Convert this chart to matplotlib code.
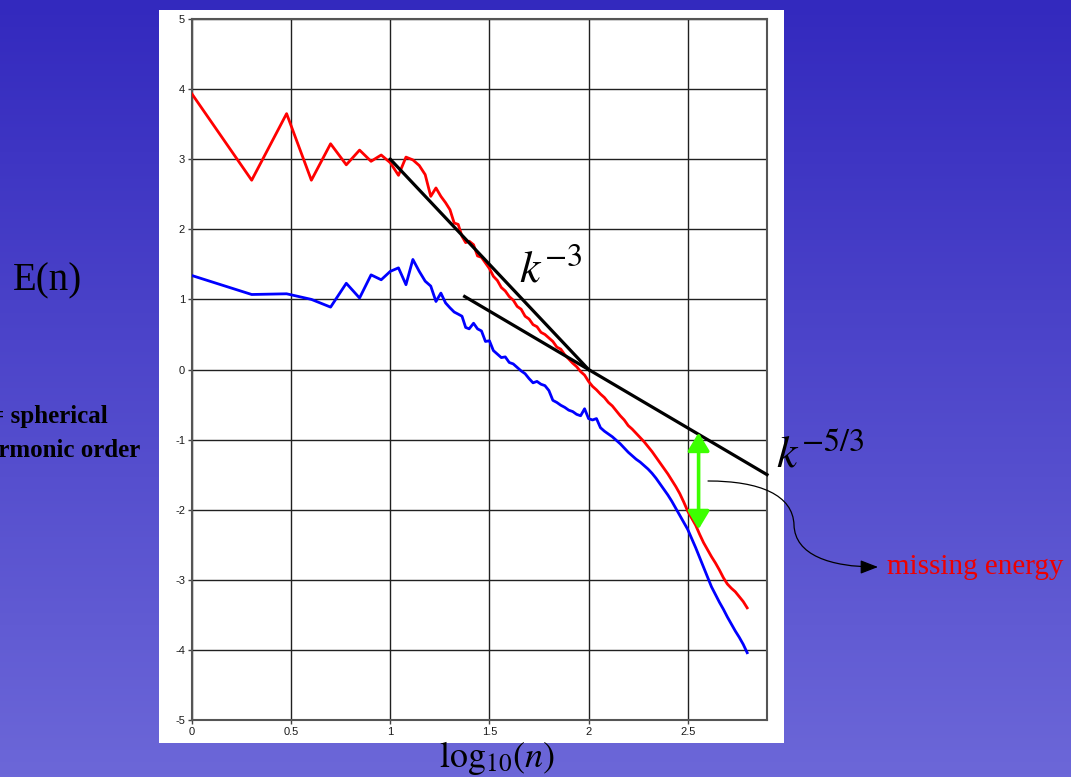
import numpy as np
import matplotlib
matplotlib.use("Agg")
import matplotlib.pyplot as plt
from matplotlib.patches import Rectangle, FancyArrowPatch
from matplotlib.path import Path

plt.rcParams['mathtext.fontset'] = 'stix'
plt.rcParams['axes.unicode_minus'] = False

W, H = 1071, 777

# ---------------- data ----------------
# low harmonic orders n = 1..25 (plotted at log10 n)
n_low = np.arange(1, 26)
red_low = [3.93, 2.70, 3.65, 2.70, 3.22, 2.92, 3.13, 2.97, 3.06, 2.95,
           2.77, 3.03, 2.99, 2.91, 2.78, 2.47, 2.59, 2.47, 2.38, 2.28,
           2.09, 2.07, 1.90, 1.81, 1.83]
blue_low = [1.34, 1.07, 1.08, 1.00, 0.89, 1.23, 1.02, 1.35, 1.28, 1.40,
            1.45, 1.21, 1.57, 1.40, 1.26, 1.19, 0.97, 1.09, 0.95, 0.88,
            0.82, 0.79, 0.76, 0.60, 0.58]

# higher orders, sampled along log10(n)
x_high = [1.42, 1.44, 1.46, 1.48, 1.50, 1.52, 1.54, 1.56, 1.58, 1.60,
          1.62, 1.64, 1.66, 1.68, 1.70, 1.72, 1.74, 1.76, 1.78, 1.80,
          1.82, 1.84, 1.86, 1.88, 1.90, 1.92, 1.94, 1.96, 1.98, 2.00,
          2.02, 2.04, 2.06, 2.08, 2.10, 2.12, 2.14, 2.16, 2.18, 2.20,
          2.22, 2.24, 2.26, 2.28, 2.30, 2.32, 2.34, 2.36, 2.38, 2.40,
          2.42, 2.44, 2.46, 2.48, 2.50, 2.52, 2.54, 2.56, 2.58, 2.60,
          2.62, 2.64, 2.66, 2.68, 2.70, 2.72, 2.74, 2.76, 2.78, 2.80]
red_high = [1.78, 1.62, 1.60, 1.52, 1.44, 1.33, 1.27, 1.17, 1.12, 1.04,
            0.99, 0.90, 0.86, 0.76, 0.72, 0.64, 0.61, 0.53, 0.50, 0.45,
            0.40, 0.32, 0.29, 0.21, 0.15, 0.09, 0.04, -0.03, -0.08, -0.17,
            -0.24, -0.29, -0.35, -0.40, -0.47, -0.52, -0.59, -0.66, -0.72, -0.80,
            -0.85, -0.91, -0.97, -1.03, -1.10, -1.17, -1.25, -1.33, -1.41, -1.49,
            -1.58, -1.67, -1.77, -1.89, -2.02, -2.12, -2.22, -2.35, -2.47, -2.57,
            -2.67, -2.76, -2.86, -2.97, -3.06, -3.12, -3.17, -3.24, -3.31, -3.40]
blue_high = [0.66, 0.58, 0.55, 0.40, 0.41, 0.27, 0.22, 0.17, 0.18, 0.10,
             0.08, 0.03, -0.02, -0.06, -0.13, -0.19, -0.17, -0.21, -0.23, -0.30,
             -0.44, -0.47, -0.51, -0.54, -0.58, -0.60, -0.64, -0.66, -0.56, -0.70,
             -0.72, -0.70, -0.83, -0.88, -0.92, -0.96, -1.01, -1.06, -1.12, -1.18,
             -1.23, -1.28, -1.32, -1.37, -1.42, -1.48, -1.55, -1.63, -1.71, -1.79,
             -1.88, -1.98, -2.08, -2.18, -2.28, -2.41, -2.54, -2.68, -2.82, -2.96,
             -3.10, -3.21, -3.32, -3.42, -3.53, -3.63, -3.73, -3.82, -3.92, -4.04]

# reference power-law lines: (x_start, x_end) and slope, through (2, 0)
k3_x = [1.0, 2.0]
k3_slope = -3.0
k53_x = [1.375, 2.9]
k53_slope = -5.0 / 3.0

# missing-energy arrow at this log10(n), between these levels
gap_x = 2.555
gap_top, gap_bottom = -0.90, -2.28

xticks = [0, 0.5, 1, 1.5, 2, 2.5]
xticklabels = ['0', '0.5', '1', '1.5', '2', '2.5']
yticks = [-5, -4, -3, -2, -1, 0, 1, 2, 3, 4, 5]

# ---------------- figure ----------------
def fx(px):
    return px / W

def fy(py):
    return 1 - py / H

fig = plt.figure(figsize=(W / 100, H / 100), dpi=100)

# gradient background + white panel
bg = fig.add_axes([0, 0, 1, 1])
top = np.array([0x33, 0x29, 0xBE]) / 255
bot = np.array([0x6C, 0x67, 0xD8]) / 255
t = np.linspace(0, 1, 256)[:, None]
grad = (top[None, :] * (1 - t) + bot[None, :] * t)[:, None, :]
bg.imshow(grad, aspect='auto', extent=[0, 1, 0, 1], origin='upper')
bg.add_patch(Rectangle((fx(159), fy(743)), fx(784) - fx(159), fy(10) - fy(743),
                       facecolor='white', edgecolor='none'))
bg.set_xlim(0, 1)
bg.set_ylim(0, 1)
bg.axis('off')

ax = fig.add_axes([fx(192), fy(720), fx(767) - fx(192), fy(19) - fy(720)])
ax.set_facecolor('white')

x_low = np.log10(n_low)
red_x = np.concatenate([x_low, x_high])
red_y = np.concatenate([red_low, red_high])
blue_y = np.concatenate([blue_low, blue_high])

ax.plot(red_x, red_y, color='#ff0000', lw=2.0, zorder=3, solid_joinstyle='round')
ax.plot(red_x, blue_y, color='#0000ff', lw=2.0, zorder=3, solid_joinstyle='round')

kx = np.array(k3_x)
ax.plot(kx, k3_slope * (kx - 2.0), color='black', lw=2.3, zorder=4)
kx = np.array(k53_x)
ax.plot(kx, k53_slope * (kx - 2.0), color='black', lw=2.3, zorder=4, clip_on=False)

ax.annotate('', xy=(gap_x, gap_top), xytext=(gap_x, gap_bottom),
            arrowprops=dict(arrowstyle='<|-|>,head_length=0.55,head_width=0.33',
                            mutation_scale=20, color='#3cff00', lw=2.6,
                            shrinkA=0, shrinkB=0), zorder=5)

ax.set_xlim(0, 2.9)
ax.set_ylim(-5, 5)
ax.set_xticks(xticks)
ax.set_xticklabels(xticklabels)
ax.set_yticks(yticks)
ax.grid(True, color='#202020', lw=1.0, zorder=1)
ax.set_axisbelow(True)
for s in ax.spines.values():
    s.set_color('#555555')
    s.set_linewidth(1.5)
ax.tick_params(direction='out', length=3, width=1, color='#444444',
               labelsize=8, labelcolor='#1a1a1a', pad=2)
for lab in ax.get_xticklabels() + ax.get_yticklabels():
    lab.set_family('Liberation Sans')

# power-law labels
ax.text(1.65, 1.24, r'$k^{-3}$', fontsize=33, va='baseline', ha='left', zorder=6)
ax.text(2.944, -1.40, r'$k^{-5/3}$', fontsize=33, va='baseline', ha='left',
        clip_on=False, zorder=6)

# curved pointer to "missing energy"
verts = [(708, 481), (760, 481), (793, 495), (794, 525),
         (795, 555), (830, 567), (878, 567)]
verts = [(fx(a), fy(b)) for a, b in verts]
codes = [Path.MOVETO, Path.CURVE4, Path.CURVE4, Path.CURVE4,
         Path.CURVE4, Path.CURVE4, Path.CURVE4]
arr = FancyArrowPatch(path=Path(verts, codes),
                      arrowstyle='-|>,head_length=0.9,head_width=0.35',
                      mutation_scale=12, color='black', lw=0.9,
                      transform=fig.transFigure)
fig.add_artist(arr)

fig.text(fx(887), fy(574), 'missing energy', color='#ee0000', fontsize=21,
         family='Liberation Serif', va='baseline', ha='left')
fig.text(fx(13), fy(290), 'E(n)', color='black', fontsize=28,
         family='Liberation Serif', va='baseline', ha='left')
fig.text(fx(108), fy(423), 'n = spherical', color='black', fontsize=18,
         family='Liberation Serif', weight='bold', va='baseline', ha='right')
fig.text(fx(140), fy(457), 'harmonic order', color='black', fontsize=18,
         family='Liberation Serif', weight='bold', va='baseline', ha='right')
fig.text(fx(497), fy(767), r'$\mathrm{log}_{10}(n)$', color='black', fontsize=26,
         va='baseline', ha='center')

fig.savefig('out.png', dpi=100)
